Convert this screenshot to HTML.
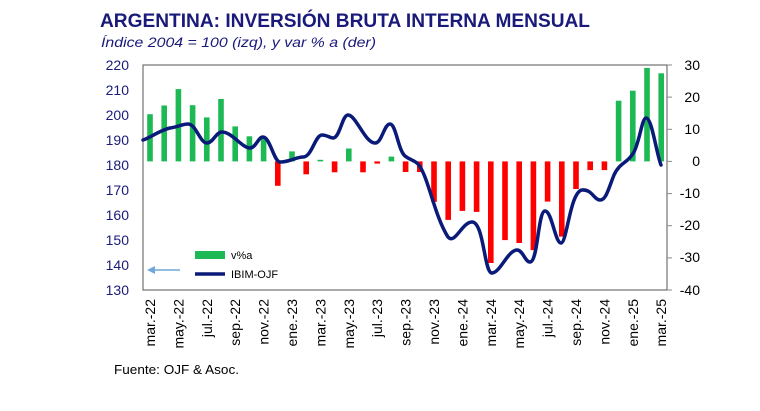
<!DOCTYPE html>
<html><head><meta charset="utf-8"><style>
body{margin:0;background:#fff;}
svg{display:block;font-family:"Liberation Sans",Arial,sans-serif;}
</style></head><body>
<svg width="760" height="411" viewBox="0 0 760 411">
<text x="100" y="27" font-size="19" font-weight="bold" fill="#1a1a7a" textLength="490" lengthAdjust="spacingAndGlyphs">ARGENTINA: INVERSIÓN BRUTA INTERNA MENSUAL</text>
<text x="101" y="47" font-size="14" font-style="italic" fill="#1a1a7a" textLength="275" lengthAdjust="spacingAndGlyphs">Índice 2004 = 100 (izq), y var % a (der)</text>
<rect x="143" y="65" width="524" height="225" fill="#fff" stroke="#555" stroke-width="1"/>
<g font-size="14" fill="#1a1a7a" text-anchor="end">
<text x="129" y="70">220</text><text x="129" y="95">210</text><text x="129" y="120">200</text><text x="129" y="145">190</text><text x="129" y="170">180</text><text x="129" y="195">170</text><text x="129" y="220">160</text><text x="129" y="245">150</text><text x="129" y="270">140</text><text x="129" y="295">130</text>
</g>
<g stroke="#888" stroke-width="1">
<line x1="667" y1="65" x2="672" y2="65"/><line x1="667" y1="97.1" x2="672" y2="97.1"/><line x1="667" y1="129.3" x2="672" y2="129.3"/><line x1="667" y1="161.4" x2="672" y2="161.4"/><line x1="667" y1="193.6" x2="672" y2="193.6"/><line x1="667" y1="225.7" x2="672" y2="225.7"/><line x1="667" y1="257.9" x2="672" y2="257.9"/><line x1="667" y1="290" x2="672" y2="290"/>
</g>
<g font-size="14" fill="#000" text-anchor="end">
<text x="700" y="70">30</text><text x="700" y="102">20</text><text x="700" y="134">10</text><text x="700" y="166">0</text><text x="700" y="198">-10</text><text x="700" y="230">-20</text><text x="700" y="262">-30</text><text x="700" y="295">-40</text>
</g>
<g fill="#1db954">
<rect x="147.2" y="114.2" width="5.6" height="47.2"/>
<rect x="161.4" y="105.5" width="5.6" height="55.9"/>
<rect x="175.6" y="89.1" width="5.6" height="72.3"/>
<rect x="189.8" y="105.2" width="5.6" height="56.2"/>
<rect x="204.0" y="117.4" width="5.6" height="44.0"/>
<rect x="218.2" y="99.0" width="5.6" height="62.4"/>
<rect x="232.4" y="126.4" width="5.6" height="35.0"/>
<rect x="246.6" y="136.3" width="5.6" height="25.1"/>
<rect x="260.8" y="138.3" width="5.6" height="23.1"/>
<rect x="289.2" y="151.4" width="5.6" height="10.0"/>
<rect x="317.6" y="159.8" width="5.6" height="1.6"/>
<rect x="346.0" y="148.5" width="5.6" height="12.9"/>
<rect x="388.6" y="156.6" width="5.6" height="4.8"/>
<rect x="615.8" y="100.7" width="5.6" height="60.7"/>
<rect x="630.0" y="90.7" width="5.6" height="70.7"/>
<rect x="644.2" y="67.9" width="5.6" height="93.5"/>
<rect x="658.4" y="73.3" width="5.6" height="88.1"/>
</g>
<g fill="#ff0000">
<rect x="275.0" y="161.4" width="5.6" height="24.4"/>
<rect x="303.4" y="161.4" width="5.6" height="12.9"/>
<rect x="331.8" y="161.4" width="5.6" height="10.9"/>
<rect x="360.2" y="161.4" width="5.6" height="10.9"/>
<rect x="374.4" y="161.4" width="5.6" height="2.2"/>
<rect x="402.8" y="161.4" width="5.6" height="10.6"/>
<rect x="417.0" y="161.4" width="5.6" height="10.6"/>
<rect x="431.2" y="161.4" width="5.6" height="40.5"/>
<rect x="445.4" y="161.4" width="5.6" height="58.5"/>
<rect x="459.6" y="161.4" width="5.6" height="49.5"/>
<rect x="473.8" y="161.4" width="5.6" height="50.5"/>
<rect x="488.0" y="161.4" width="5.6" height="101.6"/>
<rect x="502.2" y="161.4" width="5.6" height="78.7"/>
<rect x="516.4" y="161.4" width="5.6" height="81.6"/>
<rect x="530.6" y="161.4" width="5.6" height="88.7"/>
<rect x="544.8" y="161.4" width="5.6" height="40.2"/>
<rect x="559.0" y="161.4" width="5.6" height="75.2"/>
<rect x="573.2" y="161.4" width="5.6" height="27.6"/>
<rect x="587.4" y="161.4" width="5.6" height="8.7"/>
<rect x="601.6" y="161.4" width="5.6" height="8.7"/>
</g>
<path d="M143,140 C150,138 160,130 170,128 C178,127 182,124 188,124 C196,124 200,143 207,143 C213,143 216,132 222,132 C232,132 242,148 250,148 C256,148 258,137 263,137 C270,137 274,162 280,162 C290,162 296,157 303,157 C312,157 315,135 322,135 C327,135 330,138 333,138 C340,138 342,115 348,115 C356,115 365,143 375,143 C382,143 384,124 390,124 C396,124 398,150 405,156 C410,160 414,160 418,164 C428,175 434,215 448,237 C455,245 462,222 472,222 C484,222 484,273 492,273 C500,273 508,250 517,250 C523,250 525,262 530,262 C538,262 538,211 545,211 C552,211 555,243 561,243 C567,243 570,192 582,190 C592,189 594,200 600,200 C606,200 608,190 614,175 C620,162 627,164 634,152 C640,140 642,118 646,118 C652,118 656,152 661,165" fill="none" stroke="#0a1a78" stroke-width="3.5" stroke-linejoin="round" stroke-linecap="round"/>
<rect x="195" y="251" width="30" height="8" fill="#1db954"/>
<text x="231" y="259" font-size="11" fill="#000">v%a</text>
<line x1="195" y1="274" x2="225" y2="274" stroke="#0a1a78" stroke-width="3.5"/>
<text x="231" y="278" font-size="11" fill="#000">IBIM-OJF</text>
<line x1="152" y1="270" x2="180" y2="270" stroke="#6fa8dc" stroke-width="1.5"/>
<polygon points="147,270 155,266 155,274" fill="#6fa8dc"/>
<g font-size="14" fill="#000" text-anchor="end">
<text transform="translate(155,299) rotate(-90)">mar.-22</text>
<text transform="translate(183.4,299) rotate(-90)">may.-22</text>
<text transform="translate(211.8,299) rotate(-90)">jul.-22</text>
<text transform="translate(240.2,299) rotate(-90)">sep.-22</text>
<text transform="translate(268.6,299) rotate(-90)">nov.-22</text>
<text transform="translate(297,299) rotate(-90)">ene.-23</text>
<text transform="translate(325.4,299) rotate(-90)">mar.-23</text>
<text transform="translate(353.8,299) rotate(-90)">may.-23</text>
<text transform="translate(382.2,299) rotate(-90)">jul.-23</text>
<text transform="translate(410.6,299) rotate(-90)">sep.-23</text>
<text transform="translate(439,299) rotate(-90)">nov.-23</text>
<text transform="translate(467.4,299) rotate(-90)">ene.-24</text>
<text transform="translate(495.8,299) rotate(-90)">mar.-24</text>
<text transform="translate(524.2,299) rotate(-90)">may.-24</text>
<text transform="translate(552.6,299) rotate(-90)">jul.-24</text>
<text transform="translate(581,299) rotate(-90)">sep.-24</text>
<text transform="translate(609.4,299) rotate(-90)">nov.-24</text>
<text transform="translate(637.8,299) rotate(-90)">ene.-25</text>
<text transform="translate(666.2,299) rotate(-90)">mar.-25</text>
</g>
<text x="114" y="374" font-size="12.5" fill="#000" textLength="125" lengthAdjust="spacingAndGlyphs">Fuente: OJF &amp; Asoc.</text>
</svg>
</body></html>
